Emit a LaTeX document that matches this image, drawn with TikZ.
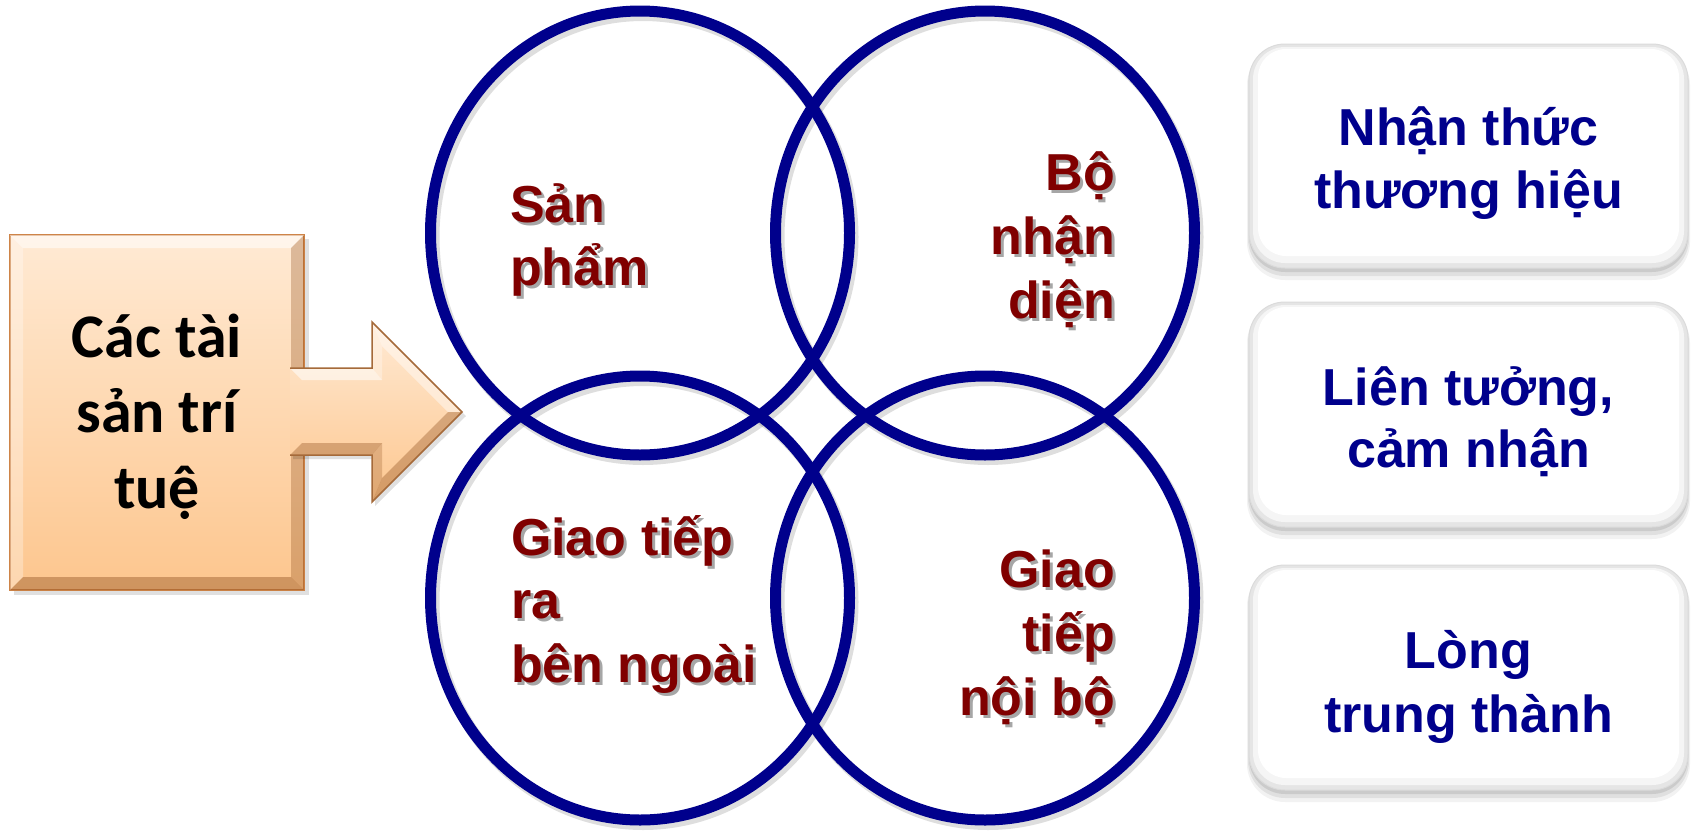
\documentclass[tikz,border=0pt]{standalone}
\usepackage{fontspec}
\setmainfont{Liberation Sans}
\newfontfamily\boxfont{Carlito}
\usetikzlibrary{shapes.geometric}

\definecolor{vennblue}{RGB}{0,0,140}
\definecolor{vennred}{RGB}{128,0,0}
\definecolor{peachtop}{RGB}{255,234,212}
\definecolor{peachbot}{RGB}{253,198,142}
\definecolor{peachline}{RGB}{206,132,72}
\definecolor{bevelbrown}{RGB}{140,75,25}

% one line of a stacked label, aligned left / right / centred on the anchor
\newcommand\lineL[1]{\hbox to 0pt{#1\hss}}
\newcommand\lineR[1]{\hbox to 0pt{\hss#1}}
\newcommand\lineC[1]{\hbox to 0pt{\hss#1\hss}}
% lines with a fixed baseline distance; the node's base is the first line
\newcommand\textstack[2]{\vtop{\baselineskip=#1\lineskiplimit=-1000pt\lineskip=0pt\relax#2}}

\tikzset{
  venn/.style={ellipse, draw=vennblue, line width=11pt, inner sep=0pt,
    minimum width=419pt, minimum height=444pt},
  vennshade/.style={draw=black, opacity=.13, line width=12pt},
  redtext/.style={font=\fontsize{52pt}{63pt}\selectfont\bfseries, text=vennred,
    inner sep=0pt, anchor=base},
  redshade/.style={redtext, text=black, opacity=.35},
  bluetext/.style={font=\fontsize{52pt}{63pt}\selectfont\bfseries, text=vennblue,
    inner sep=0pt, anchor=base},
  assettext/.style={font=\boxfont\fontsize{62pt}{76pt}\selectfont\bfseries,
    text=black, inner sep=0pt, anchor=base},
  assetbox/.style={rectangle, draw=peachline, line width=1.5pt,
    top color=peachtop, bottom color=peachbot,
    minimum width=294pt, minimum height=355pt, inner sep=0pt},
  panelbox/.style={rectangle, rounded corners=36pt, draw=black!14, line width=1pt,
    fill=black!10, minimum width=439pt, inner sep=0pt},
}

% rounded side panel with a soft shadow and a light bevel: name, top, bottom
\newcommand\sidepanel[3]{%
  \fill[black, opacity=.05, rounded corners=38pt] (1247,{#2+3}) rectangle (1690,{#3+12});
  \fill[black, opacity=.07, rounded corners=37pt] (1248,{#2+3}) rectangle (1689,{#3+8});
  \fill[black, opacity=.09, rounded corners=36pt] (1249,{#2+2}) rectangle (1688,{#3+4});
  \node[panelbox, minimum height={(#3-#2)*1pt}] (#1) at (1468.5,{(#2+#3)/2}) {};
  \fill[black!4, rounded corners=32pt] (1253,{#2+3}) rectangle (1684,{#3-5});
  \fill[white, rounded corners=28pt] (1258,{#2+5}) rectangle (1679,{#3-12});
}

% red label inside a circle, with its drop shadow: name, x, y, lines
\newcommand\vennlabel[4]{%
  \node[redshade] (#1-shadow) at ({#2+3},{#3+3}) {#4};
  \node[redtext] (#1) at (#2,#3) {#4};
}

\begin{document}
\begin{tikzpicture}[x=1pt,y=-1pt]
\useasboundingbox (0,0) rectangle (1691,830);
\fill[white] (0,0) rectangle (1691,830);

% ---- source box -------------------------------------------------------
\fill[black, opacity=.12] (14,239) rectangle (309,595);
\node[assetbox] (assets) at (157,412.5) {};
\fill[white, opacity=.55] (10,235) -- (304,235) -- (291,248) -- (23,248) -- cycle;
\fill[white, opacity=.30] (10,235) -- (23,248) -- (23,577) -- (10,590) -- cycle;
\fill[bevelbrown, opacity=.30] (304,235) -- (304,590) -- (291,577) -- (291,248) -- cycle;
\fill[bevelbrown, opacity=.40] (10,590) -- (304,590) -- (291,577) -- (23,577) -- cycle;
\node[assettext] (assetlabel) at (157,357)
  {\textstack{75.5pt}{\lineC{Các tài}\lineC{sản trí}\lineC{tuệ}}};

% ---- block arrow into the circles ------------------------------------
\coordinate (tip) at (462,412);
\fill[black, opacity=.12] (293,372) -- (375,372) -- (375,326) -- (466,416) -- (375,506) -- (375,459) -- (293,459) -- cycle;
\shade[top color=peachtop, bottom color=peachbot] (290,368) -- (372,368) -- (372,322) -- (tip) -- (372,502) -- (372,455) -- (290,455) -- cycle;
\fill[white, opacity=.55] (290,368) -- (372,368) -- (382,380) -- (302,380) -- cycle;
\fill[white, opacity=.45] (372,322) -- (tip) -- (448,412) -- (382,346) -- cycle;
\fill[white, opacity=.30] (372,322) -- (382,346) -- (382,380) -- (372,368) -- cycle;
\fill[bevelbrown, opacity=.35] (tip) -- (372,502) -- (382,478) -- (448,412) -- cycle;
\fill[bevelbrown, opacity=.35] (290,455) -- (372,455) -- (382,443) -- (302,443) -- cycle;
\fill[bevelbrown, opacity=.25] (372,455) -- (382,443) -- (382,478) -- (372,502) -- cycle;
\draw[peachline!80!black, line width=1.5pt, line join=miter]
  (290,368) -- (372,368) -- (372,322) -- (tip) -- (372,502) -- (372,455) -- (290,455);

% ---- four overlapping circles -----------------------------------------
\foreach \cx/\cy in {640/233, 985/233, 640/598, 985/598}
  \draw[vennshade] ({\cx+3},{\cy+4}) ellipse [x radius=209.5, y radius=222];
\node[venn] (product)  at (640,233) {};
\node[venn] (identity) at (985,233) {};
\node[venn] (external) at (640,598) {};
\node[venn] (internal) at (985,598) {};

\vennlabel{productlabel}{510}{222}{\textstack{63pt}{\lineL{Sản}\lineL{phẩm}}}
\vennlabel{identitylabel}{1115}{190}{\textstack{64pt}{\lineR{Bộ}\lineR{nhận}\lineR{diện}}}
\vennlabel{externallabel}{511}{555}{\textstack{63.5pt}{\lineL{Giao tiếp}\lineL{ra}\lineL{bên ngoài}}}
\vennlabel{internallabel}{1115}{587}{\textstack{64pt}{\lineR{Giao}\lineR{tiếp}\lineR{nội bộ}}}

% ---- outcome panels ---------------------------------------------------
\sidepanel{awareness}{44}{268}
\node[bluetext] (awarenesslabel) at (1468.5,145)
  {\textstack{63pt}{\lineC{Nhận thức}\lineC{thương hiệu}}};
\sidepanel{association}{302}{527}
\node[bluetext] (associationlabel) at (1468.5,405)
  {\textstack{62pt}{\lineC{Liên tưởng,}\lineC{cảm nhận}}};
\sidepanel{loyalty}{565}{790}
\node[bluetext] (loyaltylabel) at (1468.5,668)
  {\textstack{64pt}{\lineC{Lòng}\lineC{trung thành}}};
\end{tikzpicture}
\end{document}
